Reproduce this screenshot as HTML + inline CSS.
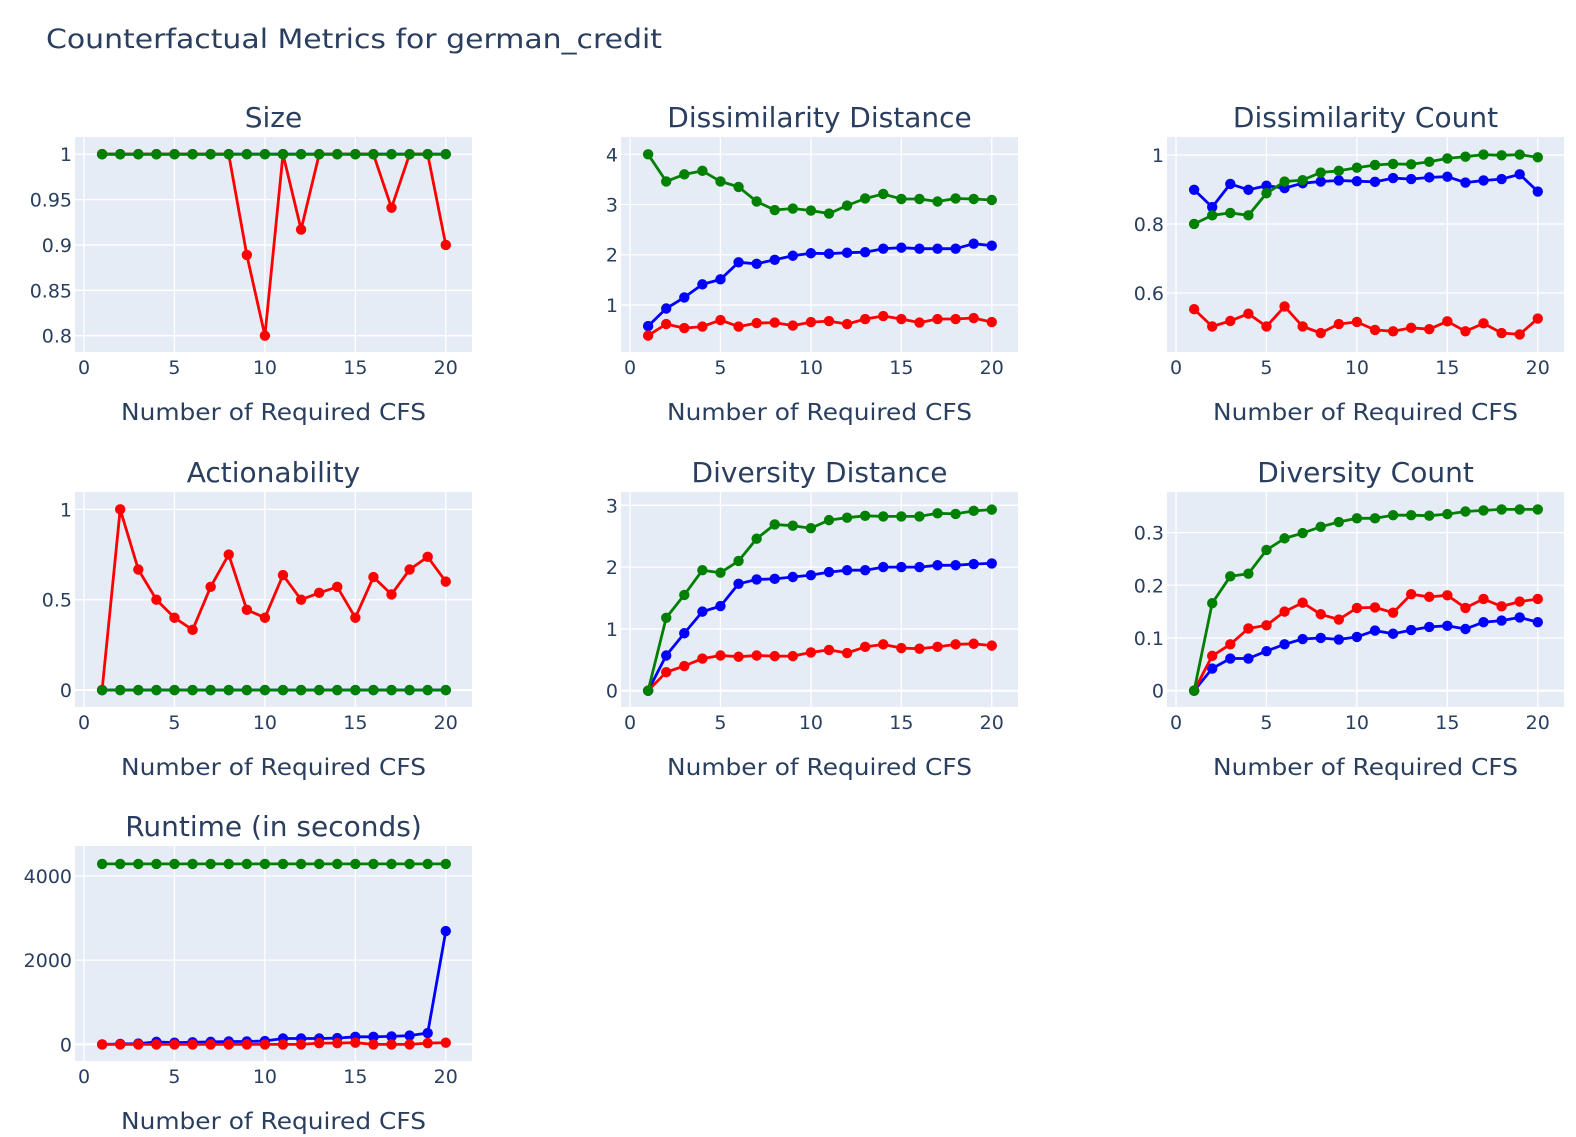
<!DOCTYPE html>
<html><head><meta charset="utf-8"><style>
body{margin:0;background:#fff;}
svg{display:block;font-family:"DejaVu Sans","Liberation Sans",sans-serif;}
</style></head><body>
<svg id="chart" width="1576" height="1137">
<text x="46" y="48" font-size="27" fill="#2a3f5f" textLength="616" lengthAdjust="spacingAndGlyphs">Counterfactual Metrics for german_credit</text>
</svg>
<script>
const xs = [1,2,3,4,5,6,7,8,9,10,11,12,13,14,15,16,17,18,19,20];
const xTicks = [0,5,10,15,20];
const seriesColors = ['#0000ff','#ff0000','#008000'];

const sizeBlue = [1,1,1,1,1,1,1,1,1,1,1,1,1,1,1,1,1,1,1,1];
const sizeRed = [1,1,1,1,1,1,1,1,0.889,0.8,1,0.917,1,1,1,1,0.941,1,1,0.9];
const sizeGreen = [1,1,1,1,1,1,1,1,1,1,1,1,1,1,1,1,1,1,1,1];
const sizeTicks = [0.8,0.85,0.9,0.95,1];

const ddBlue = [0.58,0.93,1.15,1.41,1.51,1.85,1.82,1.90,1.98,2.03,2.02,2.04,2.05,2.12,2.14,2.12,2.12,2.12,2.22,2.18];
const ddRed = [0.39,0.62,0.54,0.57,0.70,0.57,0.64,0.65,0.59,0.66,0.68,0.62,0.72,0.78,0.72,0.65,0.72,0.72,0.74,0.66];
const ddGreen = [4,3.46,3.60,3.67,3.46,3.35,3.06,2.89,2.92,2.88,2.82,2.98,3.12,3.21,3.11,3.11,3.06,3.12,3.11,3.09];
const ddTicks = [1,2,3,4];

const dcBlue = [0.899,0.849,0.916,0.899,0.911,0.904,0.918,0.923,0.926,0.924,0.922,0.933,0.930,0.935,0.937,0.920,0.926,0.930,0.944,0.894];
const dcRed = [0.553,0.503,0.519,0.540,0.503,0.561,0.503,0.484,0.510,0.516,0.493,0.489,0.499,0.495,0.518,0.489,0.512,0.484,0.480,0.526];
const dcGreen = [0.8,0.825,0.832,0.825,0.889,0.923,0.927,0.949,0.954,0.963,0.971,0.974,0.973,0.980,0.990,0.995,1.001,0.999,1.001,0.993];
const dcTicks = [0.6,0.8,1];

const acBlue = [0,0,0,0,0,0,0,0,0,0,0,0,0,0,0,0,0,0,0,0];
const acRed = [0,1,0.667,0.5,0.4,0.333,0.571,0.75,0.444,0.4,0.636,0.5,0.538,0.571,0.4,0.625,0.529,0.667,0.737,0.6];
const acGreen = [0,0,0,0,0,0,0,0,0,0,0,0,0,0,0,0,0,0,0,0];
const acTicks = [0,0.5,1];

const vdBlue = [0,0.57,0.93,1.28,1.37,1.73,1.80,1.81,1.84,1.87,1.92,1.95,1.95,2.00,2.00,2.00,2.03,2.03,2.05,2.06];
const vdRed = [0,0.30,0.40,0.52,0.57,0.55,0.57,0.56,0.56,0.62,0.66,0.61,0.71,0.75,0.69,0.68,0.71,0.75,0.76,0.73];
const vdGreen = [0,1.18,1.55,1.95,1.91,2.10,2.46,2.69,2.67,2.63,2.76,2.80,2.83,2.82,2.82,2.82,2.87,2.86,2.91,2.93];
const vdTicks = [0,1,2,3];

const vcBlue = [0,0.042,0.061,0.061,0.075,0.088,0.098,0.100,0.097,0.102,0.114,0.108,0.115,0.121,0.123,0.117,0.130,0.133,0.139,0.130];
const vcRed = [0,0.066,0.088,0.118,0.124,0.150,0.167,0.145,0.135,0.157,0.158,0.148,0.183,0.178,0.181,0.157,0.174,0.160,0.169,0.174];
const vcGreen = [0,0.166,0.217,0.222,0.267,0.289,0.299,0.311,0.320,0.327,0.327,0.333,0.333,0.332,0.335,0.340,0.342,0.344,0.344,0.344];
const vcTicks = [0,0.1,0.2,0.3];

const rtBlue = [0,10,20,60,40,50,60,70,70,80,140,140,140,150,180,180,190,210,270,2690];
const rtRed = [0,0,0,0,0,0,0,0,0,0,0,0,30,30,40,0,0,0,30,40];
const rtGreen = [4283,4283,4283,4283,4283,4283,4283,4283,4283,4283,4283,4283,4283,4283,4283,4283,4283,4283,4283,4283];
const rtTicks = [0,2000,4000];

const NS = 'http://www.w3.org/2000/svg';
const svg = document.getElementById('chart');
function mk(tag, attrs, parent){
  const e = document.createElementNS(NS, tag);
  for (const k in attrs) e.setAttribute(k, attrs[k]);
  (parent||svg).appendChild(e);
  return e;
}
const panels = [
  {id:'size', title:'Size', col:0, row:0, y0:0.782, y1:1.019, ticks:sizeTicks, data:[sizeBlue,sizeRed,sizeGreen]},
  {id:'dissimilarity-distance', title:'Dissimilarity Distance', col:1, row:0, y0:0.064, y1:4.344, ticks:ddTicks, data:[ddBlue,ddRed,ddGreen]},
  {id:'dissimilarity-count', title:'Dissimilarity Count', col:2, row:0, y0:0.429, y1:1.052, ticks:dcTicks, data:[dcBlue,dcRed,dcGreen]},
  {id:'actionability', title:'Actionability', col:0, row:1, y0:-0.094, y1:1.096, ticks:acTicks, data:[acBlue,acRed,acGreen]},
  {id:'diversity-distance', title:'Diversity Distance', col:1, row:1, y0:-0.263, y1:3.215, ticks:vdTicks, data:[vdBlue,vdRed,vdGreen]},
  {id:'diversity-count', title:'Diversity Count', col:2, row:1, y0:-0.031, y1:0.377, ticks:vcTicks, data:[vcBlue,vcRed,vcGreen]},
  {id:'runtime', title:'Runtime (in seconds)', col:0, row:2, y0:-394, y1:4709, ticks:rtTicks, data:[rtBlue,rtRed,rtGreen]}
];
const lefts = [75,621,1167], tops = [137,492,846];
const W = 397, H = 215;
panels.forEach(p => {
  const L = lefts[p.col], T = tops[p.row];
  const g = mk('g', {});
  
  
  const xs2px = v => L + (v + 0.5) / 21.95 * W;
  const ys2px = v => T + (p.y1 - v) / (p.y1 - p.y0) * H;
  const bg = mk('rect', {x:L, y:T, width:W, height:H, fill:'#e5ecf6'}, g);
  
  
  xTicks.forEach(t => {
    const x = xs2px(t);
    mk('line', {x1:x, x2:x, y1:T, y2:T+H, stroke:'#fff', 'stroke-width':1.3}, g);
    const tl = mk('text', {x:x, y:T+H+22, 'font-size':19, fill:'#2a3f5f', 'text-anchor':'middle'}, g);
    tl.textContent = t;
    
    
  });
  p.ticks.forEach(t => {
    const y = ys2px(t);
    mk('line', {x1:L, x2:L+W, y1:y, y2:y, stroke:'#fff', 'stroke-width': t===0 ? 2 : 1.3}, g);
    const tl = mk('text', {x:L-3, y:y+7, 'font-size':19, fill:'#2a3f5f', 'text-anchor':'end'}, g);
    tl.textContent = t;
    
    
  });
  p.data.forEach((arr, si) => {
    const pts = xs.map((x,i) => xs2px(x).toFixed(1) + ',' + ys2px(arr[i]).toFixed(1)).join(' ');
    const line = mk('polyline', {points:pts, fill:'none', stroke:seriesColors[si], 'stroke-width':2.8, 'stroke-linejoin':'round'}, g);
    
    
    xs.forEach((x,i) => {
      const c = mk('circle', {cx:xs2px(x), cy:ys2px(arr[i]), r:5.2, fill:seriesColors[si]}, g);
      
      
    });
  });
  const st = mk('text', {x:L+W/2, y:T-10, 'font-size':28, fill:'#2a3f5f', 'text-anchor':'middle'}, g);
  st.textContent = p.title;
  
  
  const at = mk('text', {x:L+W/2, y:T+H+68, 'font-size':23, fill:'#2a3f5f', 'text-anchor':'middle', textLength:305, lengthAdjust:'spacingAndGlyphs'}, g);
  at.textContent = 'Number of Required CFS';
  
  
});
</script>
</body></html>
